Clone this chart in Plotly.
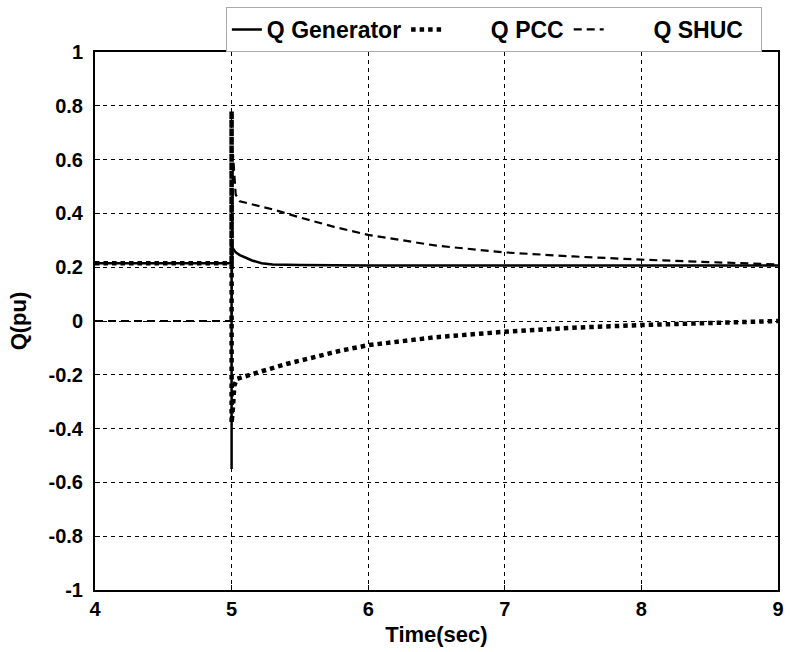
import plotly.graph_objects as go

# Data
t_gen = [4.0, 4.99, 5.0, 5.0, 5.0, 5.01, 5.03, 5.06, 5.1, 5.15, 5.22, 5.3, 5.5, 6.0, 7.0, 8.0, 9.0]
q_gen = [0.215, 0.215, 0.215, -0.55, 0.28, 0.27, 0.255, 0.245, 0.235, 0.225, 0.215, 0.21, 0.208, 0.206, 0.206, 0.206, 0.206]

t_pcc = [4.0, 4.99, 5.0, 5.0, 5.0, 5.01, 5.02, 5.04, 5.1, 5.2, 5.4, 5.6, 5.8, 6.0, 6.5, 7.0, 7.5, 8.0, 8.5, 9.0]
q_pcc = [0.215, 0.215, 0.215, 0.78, -0.38, -0.32, -0.24, -0.215, -0.205, -0.19, -0.16, -0.135, -0.11, -0.09, -0.06, -0.04, -0.025, -0.015, -0.007, 0.0]

t_shuc = [4.0, 4.99, 5.0, 5.01, 5.03, 5.06, 5.1, 5.2, 5.3, 5.5, 5.75, 6.0, 6.5, 7.0, 7.5, 8.0, 8.5, 9.0]
q_shuc = [0.0, 0.0, 0.0, 0.62, 0.47, 0.445, 0.44, 0.43, 0.415, 0.385, 0.35, 0.32, 0.28, 0.255, 0.24, 0.228, 0.218, 0.21]

series_names = ["Q Generator", "Q PCC", "Q SHUC"]

x_ticks = [4, 5, 6, 7, 8, 9]
y_ticks = [-1, -0.8, -0.6, -0.4, -0.2, 0, 0.2, 0.4, 0.6, 0.8, 1]
y_tick_labels = ["-1", "-0.8", "-0.6", "-0.4", "-0.2", "0", "0.2", "0.4", "0.6", "0.8", "1"]

NB = "\u00a0"
legend_labels = [series_names[0], NB * 7 + series_names[1], NB * 7 + series_names[2] + NB * 2]

fig = go.Figure()
fig.add_trace(go.Scatter(x=t_gen, y=q_gen, mode="lines", name=legend_labels[0],
                         line=dict(color="black", width=2.5, dash="solid")))
fig.add_trace(go.Scatter(x=t_pcc, y=q_pcc, mode="lines", name=legend_labels[1],
                         line=dict(color="black", width=4.5, dash="4.5px,4px")))
fig.add_trace(go.Scatter(x=t_shuc, y=q_shuc, mode="lines", name=legend_labels[2],
                         line=dict(color="black", width=2.2, dash="8px,5px")))

font_main = "Liberation Sans, Arial, sans-serif"

fig.update_layout(
    width=791, height=652,
    margin=dict(l=95, r=7, t=46, b=62),
    paper_bgcolor="white", plot_bgcolor="white",
    font=dict(family=font_main, color="black", size=20),
    showlegend=True,
    legend=dict(orientation="h", x=0.584, y=1.0, xanchor="center", yanchor="bottom",
                bordercolor="#aaaaaa", borderwidth=1, bgcolor="white",
                font=dict(family=font_main, size=23, color="black", weight="bold"),
                itemwidth=30, tracegroupgap=0),
)
fig.update_xaxes(range=[4, 9], tickvals=x_ticks, ticktext=[str(v) for v in x_ticks],
                 showgrid=True, gridcolor="black", gridwidth=1, griddash="4px,4px",
                 showline=True, linecolor="black", linewidth=2, mirror=True,
                 ticks="inside", ticklen=5, tickcolor="black", zeroline=False,
                 ticklabeloverflow="allow",
                 tickfont=dict(size=20, weight="bold"),
                 title=dict(text="<b>Time(sec)</b>", font=dict(size=22), standoff=8))
fig.update_yaxes(range=[-1, 1], tickvals=y_ticks, ticktext=y_tick_labels,
                 showgrid=True, gridcolor="black", gridwidth=1, griddash="4px,4px",
                 showline=True, linecolor="black", linewidth=2, mirror=True,
                 ticks="inside", ticklen=5, tickcolor="black", zeroline=False,
                 ticklabelstandoff=6,
                 tickfont=dict(size=20, weight="bold"),
                 title=dict(text="<b>Q(pu)</b>", font=dict(size=22), standoff=16))

fig.write_html("out.html", config={"displayModeBar": False},
               post_script="document.body.style.margin='0px';")
